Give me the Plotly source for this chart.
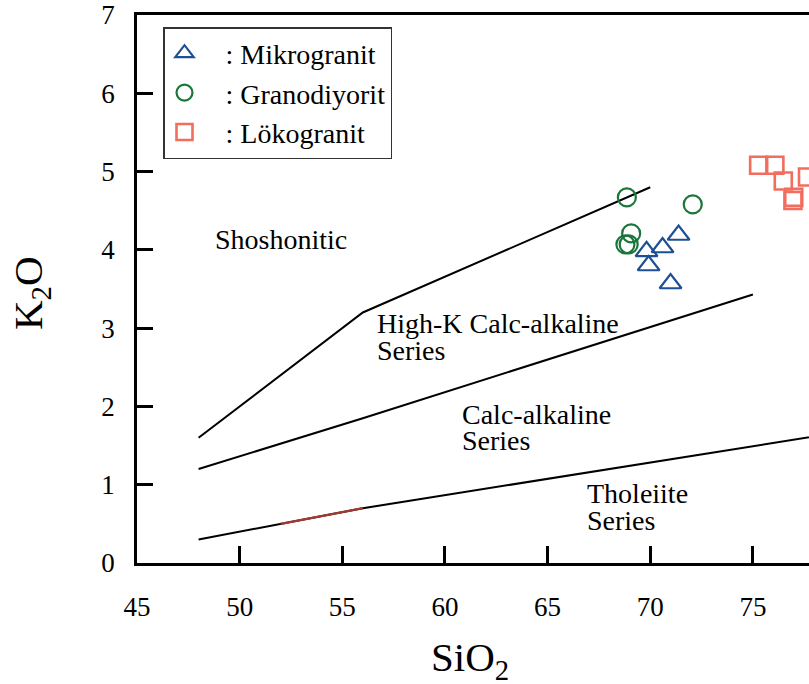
import plotly.graph_objects as go

# ---- data ----
mikro_x = [69.82, 69.92, 70.60, 71.38, 70.99]
mikro_y = [3.98, 3.80, 4.03, 4.19, 3.57]

grano_x = [68.86, 72.07, 69.07, 68.79, 68.95]
grano_y = [4.67, 4.58, 4.21, 4.07, 4.07]

loko_x = [75.28, 76.07, 76.48, 77.66, 76.99, 76.95]
loko_y = [5.08, 5.08, 4.88, 4.93, 4.67, 4.63]

shosho_x = [48, 56, 70]
shosho_y = [1.6, 3.2, 4.8]
highk_x = [48, 56, 75]
highk_y = [1.2, 1.85, 3.43]
thol_x = [48, 56, 80]
thol_y = [0.3, 0.7, 1.7]
red_x = [52, 56]
red_y = [0.5, 0.7]

x_ticks = [45, 50, 55, 60, 65, 70, 75]
y_ticks = [0, 1, 2, 3, 4, 5, 6, 7]

series_names = ["Mikrogranit", "Granodiyorit", "Lökogranit"]

FONT = "Liberation Serif, Times New Roman, serif"
PAD = "\u00a0\u00a0\u00a0"

fig = go.Figure()
for xs, ys in [(shosho_x, shosho_y), (highk_x, highk_y), (thol_x, thol_y)]:
    fig.add_trace(go.Scatter(x=xs, y=ys, mode="lines", line=dict(color="black", width=2),
                             showlegend=False, hoverinfo="skip"))
fig.add_trace(go.Scatter(x=red_x, y=red_y, mode="lines", line=dict(color="#A3392F", width=2.2),
                         showlegend=False, hoverinfo="skip"))

fig.add_trace(go.Scatter(x=mikro_x, y=mikro_y, mode="markers", name=PAD + ": " + series_names[0],
                         marker=dict(symbol="triangle-up-open", size=19, color="#1C4F95",
                                     line=dict(width=2.2, color="#1C4F95"))))
fig.add_trace(go.Scatter(x=grano_x, y=grano_y, mode="markers", name=PAD + ": " + series_names[1],
                         marker=dict(symbol="circle-open", size=18, color="#1B763B",
                                     line=dict(width=2.2, color="#1B763B"))))
fig.add_trace(go.Scatter(x=loko_x, y=loko_y, mode="markers", name=PAD + ": " + series_names[2],
                         marker=dict(symbol="square-open", size=17, color="#F26D5E",
                                     line=dict(width=2.6, color="#F26D5E"))))

ann_font = dict(family=FONT, size=28, color="black")
labels = [
    (48.68, 4.13, "Shoshonitic"),
    (56.57, 3.06, "High-K Calc-alkaline"),
    (56.57, 2.71, "Series"),
    (60.71, 1.90, "Calc-alkaline"),
    (60.71, 1.56, "Series"),
    (66.80, 0.89, "Tholeiite"),
    (66.80, 0.54, "Series"),
]
for lx, ly, t in labels:
    fig.add_annotation(x=lx, y=ly, text=t, showarrow=False, xanchor="left", yanchor="middle",
                       font=ann_font)

fig.add_annotation(xref="paper", yref="paper", x=(470 - 137) / 672, y=(563 - 660) / 548,
                   text="SiO<sub>2</sub>", showarrow=False, xanchor="center", yanchor="middle",
                   font=dict(family=FONT, size=41, color="black"))
fig.add_annotation(xref="paper", yref="paper", x=(31 - 137) / 672, y=(563 - 293) / 548,
                   text="K<sub>2</sub>O", showarrow=False, textangle=-90, xanchor="center",
                   yanchor="middle", font=dict(family=FONT, size=41, color="black"))

fig.update_layout(
    width=809, height=684,
    margin=dict(l=137, r=0, t=15, b=121),
    paper_bgcolor="white", plot_bgcolor="white",
    font=dict(family=FONT, color="black"),
    showlegend=True,
    legend=dict(x=(163 - 137) / 672, y=(563 - 27) / 548, xanchor="left", yanchor="top",
                bgcolor="white", bordercolor="#333333", borderwidth=1.5, itemwidth=30,
                font=dict(family=FONT, size=28, color="black")),
    xaxis=dict(range=[45, 45 + 672 / 20.53], tickvals=x_ticks, ticktext=[str(v) for v in x_ticks],
               ticks="inside", ticklen=17, tickwidth=2.5, tickcolor="black",
               showline=True, linewidth=2.5, linecolor="black", mirror=True,
               showgrid=False, zeroline=False, ticklabelstandoff=18,
               tickfont=dict(family=FONT, size=27, color="black")),
    yaxis=dict(range=[0, 7], tickvals=y_ticks, ticks="inside", ticklen=16, tickwidth=2.5,
               tickcolor="black", showline=True, linewidth=2.5, linecolor="black", mirror=False,
               showgrid=False, zeroline=False, ticklabelstandoff=14,
               tickfont=dict(family=FONT, size=27, color="black")),
)

fig.write_html("out.html")
